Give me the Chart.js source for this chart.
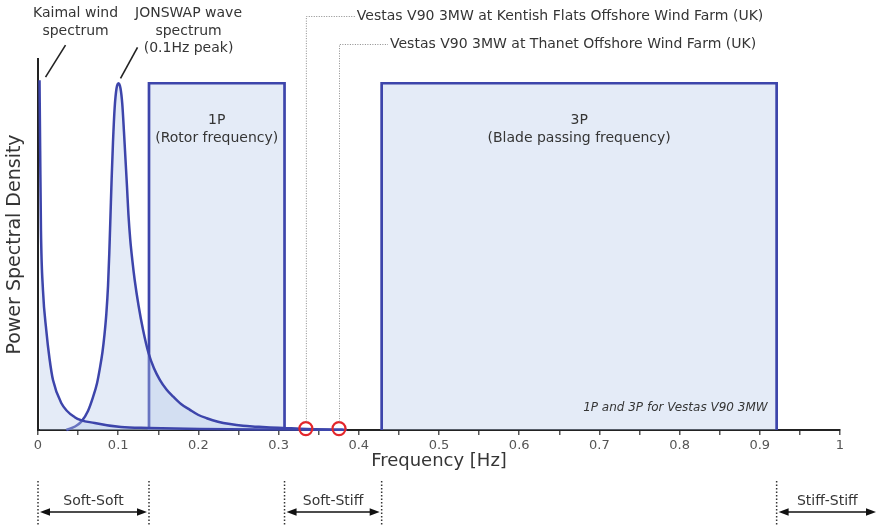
<!DOCTYPE html>
<html><head><meta charset="utf-8">
<script src="https://cdn.jsdelivr.net/npm/chart.js@4.4.1/dist/chart.umd.min.js"></script>
<style>html,body{margin:0;padding:0;background:#fff;}#wrap{width:878px;height:526px;position:relative;}</style>
</head><body><div id="wrap"><canvas id="c" width="878" height="526"></canvas></div>
<script>
// ---- data ----
const kaimalFreq = [0.0019, 0.0027, 0.0037, 0.0062, 0.0103, 0.0143, 0.0187, 0.029, 0.0458, 0.0707, 0.1035, 0.1384, 0.202, 0.3067, 0.38];
const kaimalPSD  = [1.009, 0.807, 0.576, 0.403, 0.288, 0.207, 0.144, 0.078, 0.037, 0.020, 0.0086, 0.0058, 0.0029, 0.0014, 0.0005];
const jonswapFreq = [0.0353, 0.0461, 0.054, 0.0623, 0.0686, 0.0736, 0.0773, 0.0804, 0.0829, 0.0852, 0.0873, 0.0889, 0.0904, 0.0919, 0.0935, 0.0956, 0.0979, 0.1004,
                     0.1029, 0.1051, 0.1072, 0.1091, 0.111, 0.1128, 0.115, 0.1176, 0.1206, 0.1253, 0.1309, 0.1378, 0.1446, 0.1521, 0.1602, 0.1687, 0.1783, 0.1895,
                     0.1995, 0.2104, 0.2244, 0.2394, 0.2556, 0.2727, 0.2893, 0.3055, 0.335, 0.3766, 0.385];
const jonswapPSD  = [0, 0.010, 0.024, 0.055, 0.095, 0.135, 0.18, 0.225, 0.275, 0.335, 0.415, 0.51, 0.62, 0.73, 0.83, 0.93, 0.985, 1.0,
                     0.985, 0.94, 0.86, 0.78, 0.70, 0.62, 0.55, 0.49, 0.432, 0.36, 0.29, 0.222, 0.178, 0.144, 0.117, 0.096, 0.075, 0.058,
                     0.044, 0.034, 0.024, 0.017, 0.012, 0.0095, 0.0073, 0.0058, 0.003, 0.001, 0.0005];
const box1P = [0.1384, 0.3074];
const box3P = [0.4285, 0.921];
const boxHeight = 1.0;
const box1PText = ['1P', '(Rotor frequency)'];
const box3PText = ['3P', '(Blade passing frequency)'];
const turbineFreq = [0.334, 0.3753];
const turbinePSD = [0.004, 0.004];
const turbineLabels = ['Vestas V90 3MW at Kentish Flats Offshore Wind Farm (UK)', 'Vestas V90 3MW at Thanet Offshore Wind Farm (UK)'];
const kaimalLabel = ['Kaimal wind', 'spectrum'];
const jonswapLabel = ['JONSWAP wave', 'spectrum', '(0.1Hz peak)'];
const noteText = '1P and 3P for Vestas V90 3MW';
const xTickValues = [0, 0.05, 0.1, 0.15, 0.2, 0.25, 0.3, 0.35, 0.4, 0.45, 0.5, 0.55, 0.6, 0.65, 0.7, 0.75, 0.8, 0.85, 0.9, 0.95, 1];
const xTickLabels = ['0', '', '0.1', '', '0.2', '', '0.3', '', '0.4', '', '0.5', '', '0.6', '', '0.7', '', '0.8', '', '0.9', '', '1'];
const zoneLabels = ['Soft-Soft', 'Soft-Stiff', 'Stiff-Stiff'];
const zoneBounds = [[0, 0.1384], [0.3074, 0.4285], [0.921, null]];

// ---- styling ----
const BLUE = '#3d45ab';
const FILL = 'rgba(180,200,232,0.36)';
const FONT = '"DejaVu Sans", Verdana, sans-serif';
const TXT = '#353535';

const pts = (xs, ys) => xs.map((x, i) => ({x: x, y: ys[i]}));
const boxPts = (b) => [{x: b[0], y: 0}, {x: b[0], y: boxHeight}, {x: b[1], y: boxHeight}, {x: b[1], y: 0}];

const annot = {
  id: 'annot',
  afterDraw(chart) {
    const ctx = chart.ctx, xs = chart.scales.x, ys = chart.scales.y;
    const X = v => xs.getPixelForValue(v), Y = v => ys.getPixelForValue(v);
    ctx.save();
    ctx.fillStyle = TXT; ctx.textAlign = 'center'; ctx.textBaseline = 'middle';
    ctx.font = '14px ' + FONT;
    // box labels
    [[box1P, box1PText], [box3P, box3PText]].forEach(([b, t]) => {
      const cx = (X(b[0]) + X(b[1])) / 2, top = Y(boxHeight);
      ctx.fillText(t[0], cx, top + 37);
      ctx.fillText(t[1], cx, top + 55);
    });
    // curve labels with leader lines
    const kI = kaimalPSD.indexOf(Math.max(...kaimalPSD));
    const jI = jonswapPSD.indexOf(Math.max(...jonswapPSD));
    const kx = X(kaimalFreq[kI]), ky = Y(kaimalPSD[kI]);
    const jx = X(jonswapFreq[jI]), jy = Y(jonswapPSD[jI]);
    const lineYs = [13, 31, 48];
    kaimalLabel.forEach((t, i) => ctx.fillText(t, kx + 36, lineYs[i]));
    jonswapLabel.forEach((t, i) => ctx.fillText(t, jx + 70, lineYs[i]));
    ctx.strokeStyle = '#222'; ctx.lineWidth = 1.6;
    ctx.beginPath(); ctx.moveTo(kx + 26, ky - 35); ctx.lineTo(kx + 6, ky - 3); ctx.stroke();
    ctx.beginPath(); ctx.moveTo(jx + 19, jy - 36); ctx.lineTo(jx + 2, jy - 5); ctx.stroke();
    // turbine annotations
    const labelYs = [16, 44];
    turbineFreq.forEach((f, i) => {
      const px = X(f), py = Y(turbinePSD[i]);
      ctx.strokeStyle = '#8a8a8a'; ctx.lineWidth = 1; ctx.setLineDash([1, 1.5]);
      ctx.beginPath(); ctx.moveTo(px + 0.5, py - 7); ctx.lineTo(px + 0.5, labelYs[i] + 0.5); ctx.lineTo(px + 49, labelYs[i] + 0.5); ctx.stroke();
      ctx.setLineDash([]);
      ctx.textAlign = 'left';
      ctx.fillText(turbineLabels[i], px + 51, labelYs[i]);
    });
    // note
    ctx.font = 'italic 12px ' + FONT; ctx.textAlign = 'right';
    ctx.fillText(noteText, X(box3P[1]) - 9, Y(0) - 22);
    // zones
    ctx.font = '14px ' + FONT; ctx.textAlign = 'center';
    const W = chart.width;
    zoneBounds.forEach((z, i) => {
      const a = X(z[0]), b = z[1] === null ? W : X(z[1]);
      ctx.strokeStyle = '#333'; ctx.lineWidth = 1.5; ctx.setLineDash([1.5, 2]);
      [a, z[1] === null ? null : b].forEach(x => {
        if (x === null) return;
        ctx.beginPath(); ctx.moveTo(x, 481); ctx.lineTo(x, 526); ctx.stroke();
      });
      ctx.setLineDash([]);
      const y = 512, h = 10, hw = 3.8;
      const x1 = a + 2, x2 = b - 2;
      ctx.strokeStyle = '#111'; ctx.fillStyle = '#111'; ctx.lineWidth = 1.6;
      ctx.beginPath(); ctx.moveTo(x1 + h - 1, y); ctx.lineTo(x2 - h + 1, y); ctx.stroke();
      ctx.beginPath(); ctx.moveTo(x1, y); ctx.lineTo(x1 + h, y - hw); ctx.lineTo(x1 + h, y + hw); ctx.closePath(); ctx.fill();
      ctx.beginPath(); ctx.moveTo(x2, y); ctx.lineTo(x2 - h, y - hw); ctx.lineTo(x2 - h, y + hw); ctx.closePath(); ctx.fill();
      ctx.fillStyle = TXT;
      ctx.fillText(zoneLabels[i], (a + b) / 2, 501);
    });
    ctx.restore();
  }
};

new Chart(document.getElementById('c'), {
  type: 'line',
  data: {
    datasets: [
      {label: 'turbines', data: pts(turbineFreq, turbinePSD), showLine: false, pointRadius: 6.5, pointBorderWidth: 2.2,
       pointBorderColor: '#e3262b', pointBackgroundColor: 'rgba(0,0,0,0)', borderColor: '#e3262b', clip: false, order: 0},
      {label: 'Kaimal', data: pts(kaimalFreq, kaimalPSD), borderColor: BLUE, borderWidth: 2.5, backgroundColor: FILL,
       fill: 'origin', pointRadius: 0, cubicInterpolationMode: 'monotone', clip: false, order: 1},
      {label: 'JONSWAP', data: pts(jonswapFreq, jonswapPSD), borderColor: BLUE, borderWidth: 2.5, backgroundColor: FILL,
       fill: 'origin', pointRadius: 0, cubicInterpolationMode: 'monotone', clip: false, order: 2},
      {label: '1P', data: boxPts(box1P), borderColor: BLUE, borderWidth: 2.7, backgroundColor: FILL, borderJoinStyle: 'miter',
       fill: 'origin', pointRadius: 0, tension: 0, order: 3},
      {label: '3P', data: boxPts(box3P), borderColor: BLUE, borderWidth: 2.7, backgroundColor: FILL, borderJoinStyle: 'miter',
       fill: 'origin', pointRadius: 0, tension: 0, order: 4}
    ]
  },
  options: {
    responsive: false, animation: false, devicePixelRatio: 1,
    layout: {padding: {top: 59, right: 38, left: 0, bottom: 0}},
    plugins: {legend: {display: false}, tooltip: {enabled: false}},
    scales: {
      x: {
        type: 'linear', min: 0, max: 1,
        afterFit(s) { s.height = 96; },
        afterBuildTicks(s) { s.ticks = xTickValues.map(v => ({value: v})); },
        ticks: {autoSkip: false, maxRotation: 0, padding: 3, color: '#555', font: {family: FONT, size: 13},
                callback: (v, i) => xTickLabels[i]},
        grid: {drawOnChartArea: false, drawTicks: true, tickLength: 5, color: '#555', lineWidth: 1.5},
        border: {display: true, color: '#222', width: 2},
        title: {display: true, text: 'Frequency [Hz]', color: TXT, font: {family: FONT, size: 18}, padding: {top: 0, bottom: 54}}
      },
      y: {
        min: 0, max: 1.07,
        afterFit(s) { s.width = 38; },
        ticks: {display: false},
        grid: {display: false},
        border: {display: true, color: '#222', width: 2},
        title: {display: true, text: 'Power Spectral Density', color: TXT, font: {family: FONT, size: 19}, padding: {top: 4, bottom: 0}}
      }
    }
  },
  plugins: [annot]
});
</script></body></html>
